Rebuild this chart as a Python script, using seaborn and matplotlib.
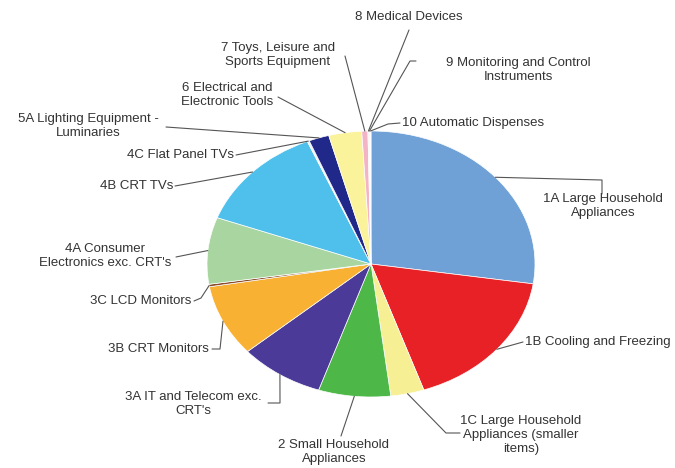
import numpy as np
import matplotlib.pyplot as plt
from matplotlib.lines import Line2D
import seaborn as sns

# ==========================================
# Data (share of WEEE by category, %)
# ==========================================
categories = [
    "1A Large Household\nAppliances",
    "1B Cooling and Freezing",
    "1C Large Household\nAppliances (smaller\nitems)",
    "2 Small Household\nAppliances",
    "3A IT and Telecom exc.\nCRT's",
    "3B CRT Monitors",
    "3C LCD Monitors",
    "4A Consumer\nElectronics exc. CRT's",
    "4B CRT TVs",
    "4C Flat Panel TVs",
    "5A Lighting Equipment -\nLuminaries",
    "6 Electrical and\nElectronic Tools",
    "7 Toys, Leisure and\nSports Equipment",
    "8 Medical Devices",
    "9 Monitoring and Control\nInstruments",
    "10 Automatic Dispenses",
]
shares = [27.4, 17.4, 3.3, 7.1, 8.4, 8.7, 0.3, 8.1, 13.0, 0.2, 2.0, 3.25, 0.6, 0.1, 0.1, 0.1]
colors = ["#6fa1d6", "#e82127", "#f7ef93", "#4db748", "#4b3a98", "#f9b133",
          "#8a4b2b", "#a9d6a0", "#4fc0ec", "#eef2f6", "#20288a", "#fbf29c",
          "#f3b5c6", "#f3dce2", "#dfe6ef", "#ffffff"]

# label layout in output pixels: (x, y, ha, leader points from text towards the pie)
layout = [
    (603, 206, "center", [(602, 194), (602, 180)]),
    (525, 342, "left", [(523, 342)]),
    (521, 435, "center", [(460, 433), (446, 433)]),
    (334, 452, "center", [(341, 436)]),
    (193, 404, "center", [(268, 403), (280, 403)]),
    (209, 349, "right", [(212, 349), (220, 349)]),
    (191, 301, "right", [(194, 301), (201, 298)]),
    (105, 256, "center", [(176, 257)]),
    (173, 186, "right", [(175, 186)]),
    (234, 155, "right", [(236, 155)]),
    (88, 126, "center", [(166, 127)]),
    (227, 95, "center", [(278, 97)]),
    (278, 55, "center", [(345, 56)]),
    (409, 17, "center", [(409, 30)]),
    (518, 70, "center", [(416, 61), (410, 61)]),
    (402, 123, "left", [(400, 123), (388, 124)]),
]

W, H = 675, 468
sns.set_theme(style="white")
plt.rcParams['font.family'] = ['Liberation Sans', 'DejaVu Sans']

fig = plt.figure(figsize=(W / 100, H / 100), dpi=100)
fig.patch.set_facecolor("white")

# elliptical pie: centre (371, 264), radii 164 x 133 px
cx, cy, rx, ry = 371, 264, 164, 133
ax = fig.add_axes([(cx - rx) / W, 1 - (cy + ry) / H, 2 * rx / W, 2 * ry / H])
wedges, _ = ax.pie(shares, colors=colors, startangle=90, counterclock=False,
                   wedgeprops=dict(edgecolor="white", linewidth=0.5))
ax.set_aspect("auto")
ax.set_xlim(-1, 1)
ax.set_ylim(-1, 1)
ax.axis("off")

to_fig = fig.transFigure.inverted()


def px(x, y):
    return x / W, 1 - y / H


for w, label, (tx, ty, ha, pts) in zip(wedges, categories, layout):
    mid = np.deg2rad((w.theta1 + w.theta2) / 2)
    ex, ey = to_fig.transform(ax.transData.transform((np.cos(mid), np.sin(mid))))
    path = [px(*p) for p in pts] + [(ex, ey)]
    xs, ys = zip(*path)
    fig.add_artist(Line2D(xs, ys, transform=fig.transFigure, color="#555555", lw=0.8))
    fig.text(*px(tx, ty), label, ha=ha, va="center", multialignment="center",
             fontsize=9.5, color="#333333")

plt.savefig("out.png", dpi=100)
plt.close()
